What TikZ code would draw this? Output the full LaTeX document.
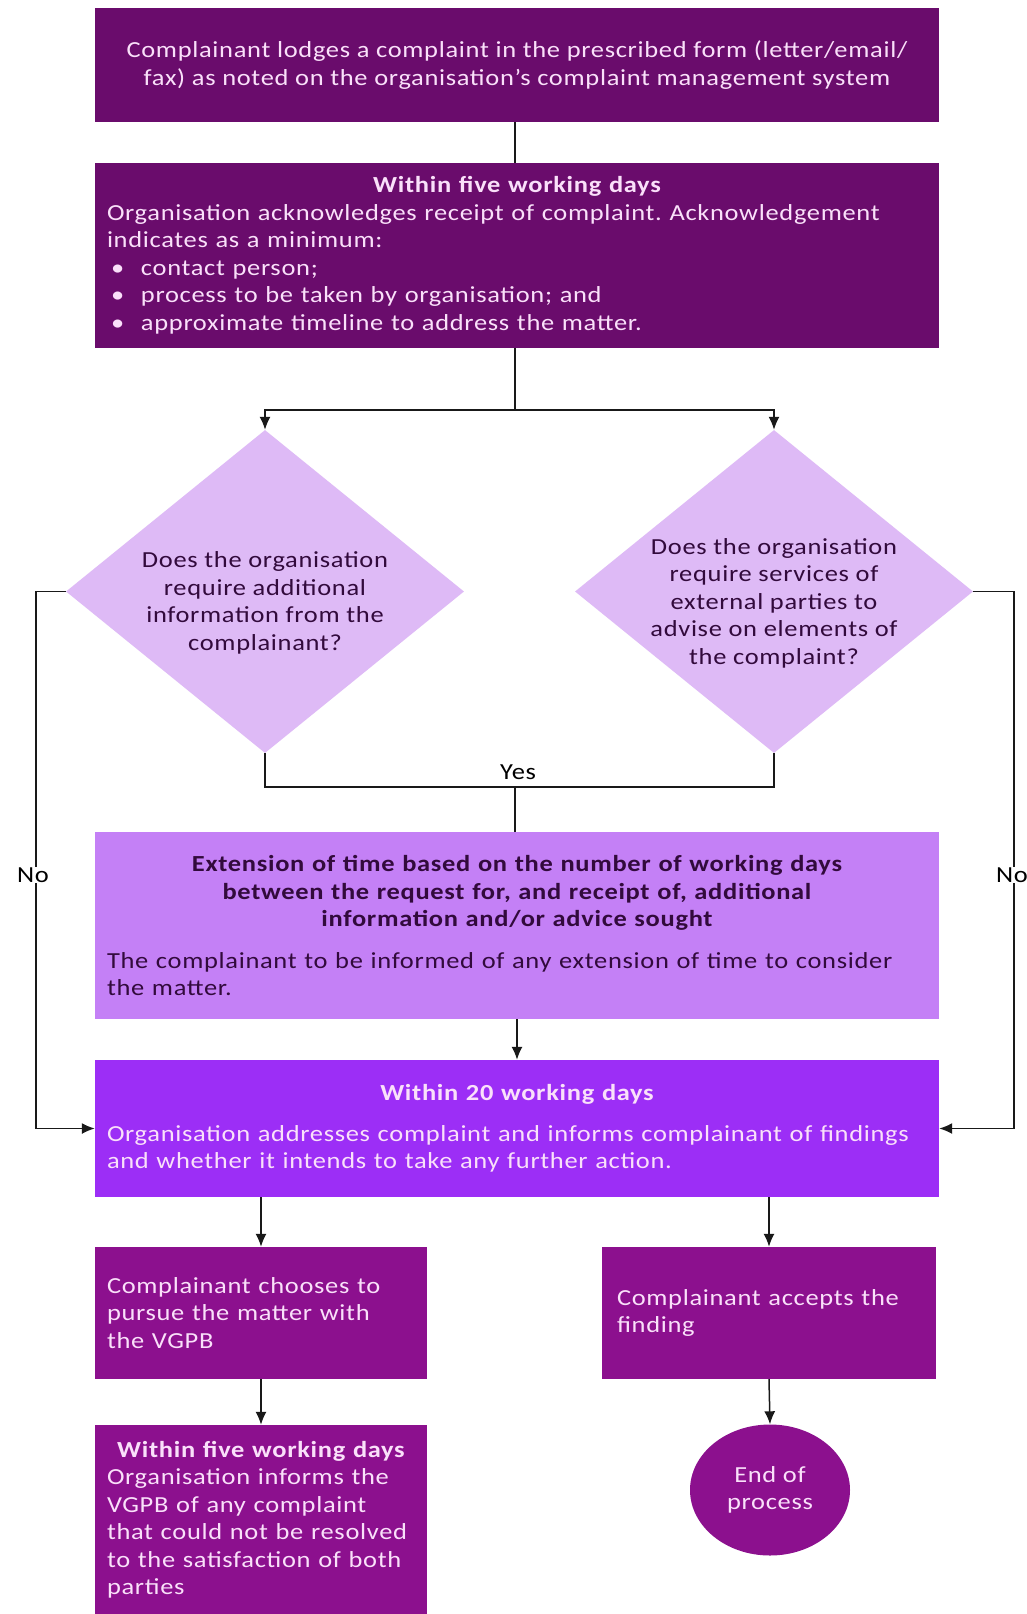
\documentclass[tikz,border=0pt]{standalone}
\usepackage{fontspec}
\setmainfont{Carlito}[FakeStretch=1.15,LetterSpace=3]
\usetikzlibrary{shapes.geometric,arrows.meta}
\definecolor{darkp}{RGB}{106,12,108}
\definecolor{lav}{RGB}{222,186,246}
\definecolor{midp}{RGB}{196,128,246}
\definecolor{brightp}{RGB}{156,46,246}
\definecolor{magp}{RGB}{140,16,142}
\definecolor{paletxt}{RGB}{250,224,250}
\definecolor{darktxt}{RGB}{50,10,60}
\tikzset{
  x=1pt,y=-1pt,
  every node/.style={font=\fontsize{23}{27.5}\selectfont},
  box/.style={rectangle,inner sep=0pt,draw=none},
  dbox/.style={box,fill=darkp,text=paletxt},
  mbox/.style={box,fill=magp,text=paletxt},
  dia/.style={diamond,fill=lav,inner sep=0pt,aspect=1.23,minimum width=398pt,minimum height=323pt},
  diatext/.style={text=darktxt,inner sep=0pt,align=center},
  conn/.style={line width=1.5pt,draw=black!90},
  arr/.style={conn,-{Latex[length=13pt,width=11pt]}},
  lbl/.style={fill=white,inner sep=1pt,text=black}
}
\begin{document}
\frenchspacing
\begin{tikzpicture}
\useasboundingbox (0,0) rectangle (1027,1614);
\fill[white] (0,0) rectangle (1027,1614);
% boxes
\node[dbox,minimum width=844pt,minimum height=114pt,align=center] (n1) at (517,65)
 {Complainant lodges a complaint in the prescribed form (letter/email/\\fax) as noted on the organisation's complaint management system};
\node[dbox,minimum width=844pt,minimum height=185pt,text width=820pt,align=left] (n2) at (517,255.5)
 {{\centering\bfseries Within five working days\par}
 Organisation acknowledges receipt of complaint. Acknowledgement\\
 indicates as a minimum:\\
 \hspace*{4pt}\makebox[30pt][l]{•}contact person;\\
 \hspace*{4pt}\makebox[30pt][l]{•}process to be taken by organisation; and\\
 \hspace*{4pt}\makebox[30pt][l]{•}approximate timeline to address the matter.};
\node[dia] (d1) at (265,591.5) {};
\node[diatext] (t1) at (265,603) {Does the organisation\\require additional\\information from the\\complainant?};
\node[dia] (d2) at (774,591.5) {};
\node[diatext] (t2) at (774,603) {Does the organisation\\require services of\\external parties to\\advise on elements of\\the complaint?};
\node[box,fill=midp,text=darktxt,minimum width=844pt,minimum height=187pt,text width=820pt,align=left] (n3) at (517,925.5)
 {{\centering\bfseries Extension of time based on the number of working days\\between the request for, and receipt of, additional\\information and/or advice sought\par}
 \vspace{14pt}The complainant to be informed of any extension of time to consider\\the matter.};
\node[box,fill=brightp,text=paletxt,minimum width=844pt,minimum height=137pt,text width=820pt,align=left] (n4) at (517,1128.5)
 {{\centering\bfseries Within 20 working days\par}
 \vspace{13pt}Organisation addresses complaint and informs complainant of findings\\and whether it intends to take any further action.};
\node[mbox,minimum width=332pt,minimum height=132pt,text width=308pt,align=left] (n5) at (261,1313)
 {Complainant chooses to\\pursue the matter with\\the VGPB};
\node[mbox,minimum width=334pt,minimum height=132pt,text width=304pt,align=left] (n6) at (769,1313)
 {Complainant accepts the\\finding};
\node[mbox,minimum width=332pt,minimum height=189pt,text width=308pt,align=left] (n7) at (261,1519.5)
 {{\centering\bfseries Within five working days\par}
 Organisation informs the\\VGPB of any complaint\\that could not be resolved\\to the satisfaction of both\\parties};
\node[ellipse,fill=magp,text=paletxt,minimum width=160pt,minimum height=131pt,inner sep=0pt,align=center] (endc) at (770,1490)
 {End of\\process};
% connectors
\coordinate (split) at (515,410);
\coordinate (yesj) at (515,787);
\draw[conn] (n1.south -| split) -- (n2.north -| split);
\draw[conn] (n2.south -| split) -- (split);
\draw[arr] (split) -| (d1.north);
\draw[arr] (split) -| (d2.north);
\draw[conn] (d1.south) |- (yesj);
\draw[conn] (d2.south) |- (yesj);
\draw[conn] (yesj) -- (n3.north -| yesj);
\node[lbl,anchor=south,inner sep=0pt,fill=none] (yes) at (518,780) {Yes};
\coordinate (noL) at (36,591.5);
\coordinate (noR) at (1014,591.5);
\draw[arr] (d1.west) -- (noL) |- (n4.west);
\draw[arr] (d2.east) -- (noR) |- (n4.east);
\node[lbl] (nol) at (33,875) {No};
\node[lbl] (nor) at (1012,875) {No};
\draw[arr] (n3.south -| 517,0) -- (n4.north -| 517,0);
\draw[arr] (n4.south -| n5.north) -- (n5.north);
\draw[arr] (n4.south -| n6.north) -- (n6.north);
\draw[arr] (n5.south) -- (n7.north);
\draw[arr] (n6.south) -- (endc.north);
\end{tikzpicture}
\end{document}
